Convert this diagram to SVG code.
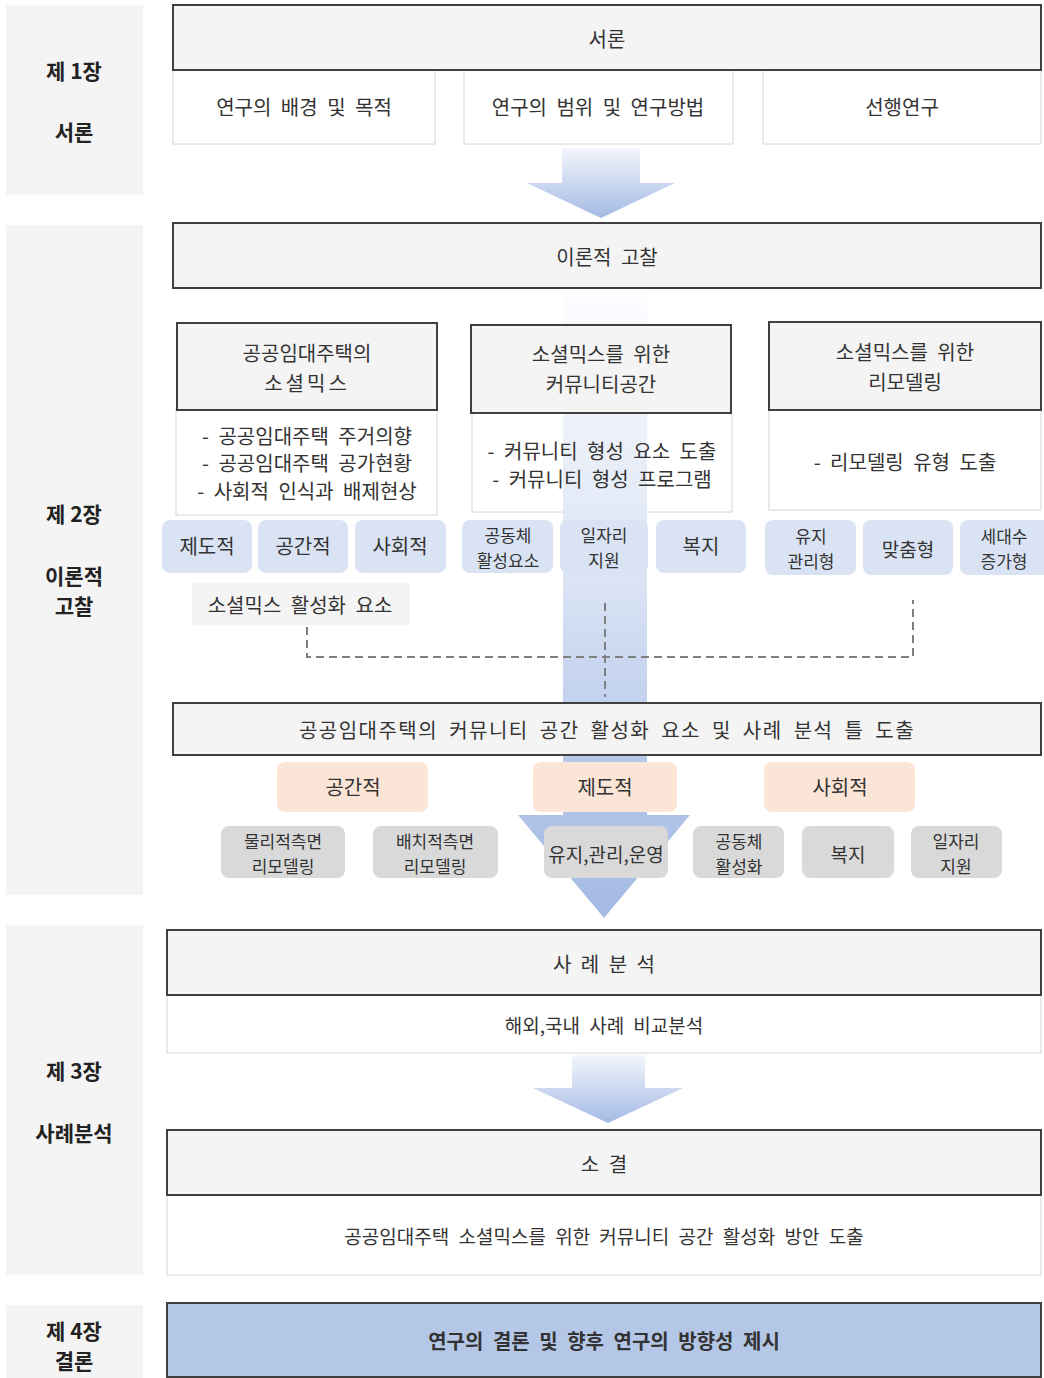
<svg xmlns="http://www.w3.org/2000/svg" width="1044" height="1378" viewBox="0 0 1044 1378">
<style>
text{font-family:"Noto Sans CJK KR","Noto Sans",sans-serif;fill:#333;text-anchor:middle;dominant-baseline:central;word-spacing:5px}
.t{font-size:20px}
.s{font-size:19px}
.p{font-size:17px;word-spacing:0}
.side{font-size:21px;font-weight:bold;fill:#222;word-spacing:0}
.panel{fill:#f4f4f4}
.hdr{fill:#f4f4f4;stroke:#404040;stroke-width:2}
.cnt{fill:#fff;stroke:#d6d6d6;stroke-width:1}
.blue{fill:#dae3f3}
.peach{fill:#fbe5d6}
.gray{fill:#d9d9d9}
.dash{fill:none;stroke:#7f7f7f;stroke-width:2;stroke-dasharray:8 5}
</style>
<defs>
<linearGradient id="g1" gradientUnits="userSpaceOnUse" x1="0" y1="148" x2="0" y2="218"><stop offset="0" stop-color="#f3f6fc"/><stop offset="1" stop-color="#a3bae3"/></linearGradient>
<linearGradient id="g2" gradientUnits="userSpaceOnUse" x1="0" y1="1055" x2="0" y2="1123"><stop offset="0" stop-color="#f3f6fc"/><stop offset="1" stop-color="#a3bae3"/></linearGradient>
<linearGradient id="g3" gradientUnits="userSpaceOnUse" x1="0" y1="290" x2="0" y2="918"><stop offset="0" stop-color="#fcfdff"/><stop offset="0.2" stop-color="#eef2fa"/><stop offset="0.45" stop-color="#dce5f5"/><stop offset="0.75" stop-color="#b6c8e9"/><stop offset="1" stop-color="#a4bae3"/></linearGradient>
</defs>

<g id="sidebar">
<g id="ch1"><rect class="panel" x="6" y="5" width="137" height="190"/><text class="side" x="74" y="70">제 1장</text><text class="side" x="74" y="131">서론</text></g>
<g id="ch2"><rect class="panel" x="6" y="225" width="137" height="670"/><text class="side" x="74" y="513">제 2장</text><text class="side" x="74" y="575">이론적</text><text class="side" x="74" y="605">고찰</text></g>
<g id="ch3"><rect class="panel" x="6" y="925" width="137" height="350"/><text class="side" x="74" y="1070">제 3장</text><text class="side" x="74" y="1132">사례분석</text></g>
<g id="ch4"><rect class="panel" x="6" y="1305" width="137" height="73"/><text class="side" x="74" y="1330">제 4장</text><text class="side" x="74" y="1360">결론</text></g>
</g>

<g id="intro-1"><rect class="cnt" x="173" y="70" width="262" height="74"/><text class="t" x="304" y="106">연구의 배경 및 목적</text></g>
<g id="intro-2"><rect class="cnt" x="464" y="70" width="269" height="74"/><text class="t" x="598" y="106">연구의 범위 및 연구방법</text></g>
<g id="intro-3"><rect class="cnt" x="763" y="70" width="278" height="74"/><text class="t" x="902" y="106">선행연구</text></g>
<g id="intro"><rect class="hdr" x="173" y="5" width="868" height="65"/><text class="t" x="607" y="38">서론</text></g>

<g id="arrows">
<path d="M562,148 H640 V183 H675 L601,218 L527,183 H562 Z" fill="url(#g1)"/>
<path d="M572,1055 H645 V1088 H683 L608,1123 L533,1088 H572 Z" fill="url(#g2)"/>
</g>

<g id="colA-body"><rect class="cnt" x="176" y="410" width="261" height="105"/><text class="t" x="307" y="435">- 공공임대주택 주거의향</text><text class="t" x="307" y="462">- 공공임대주택 공가현황</text><text class="t" x="307" y="490">- 사회적 인식과 배제현상</text></g>
<g id="colB-body"><rect class="cnt" x="472" y="413" width="260" height="99"/></g>
<g id="colC-body"><rect class="cnt" x="769" y="410" width="272" height="100"/><text class="t" x="905" y="461">- 리모델링 유형 도출</text></g>

<g id="big-arrow"><path d="M563,292 H647 V815 H690 L604,918 L518,815 H563 Z" fill="url(#g3)"/></g>

<g id="theory"><rect class="hdr" x="173" y="223" width="868" height="65"/><text class="t" x="607" y="256">이론적 고찰</text></g>

<g id="colB-text"><text class="t" x="602" y="450">- 커뮤니티 형성 요소 도출</text><text class="t" x="602" y="478">- 커뮤니티 형성 프로그램</text></g>

<g id="colA-head"><rect class="hdr" x="177" y="323" width="260" height="87"/><text class="t" x="307" y="352">공공임대주택의</text><text class="t" x="307" y="382" letter-spacing="3">소셜믹스</text></g>
<g id="colB-head"><rect class="hdr" x="471" y="325" width="260" height="88"/><text class="t" x="601" y="353">소셜믹스를 위한</text><text class="t" x="601" y="383">커뮤니티공간</text></g>
<g id="colC-head"><rect class="hdr" x="769" y="322" width="272" height="88"/><text class="t" x="905" y="351">소셜믹스를 위한</text><text class="t" x="905" y="381">리모델링</text></g>

<g id="pill-jedo"><rect class="blue" x="162" y="520" width="90" height="53" rx="8"/><text class="t" x="207" y="545">제도적</text></g>
<g id="pill-gonggan"><rect class="blue" x="258" y="520" width="90" height="53" rx="8"/><text class="t" x="303" y="545">공간적</text></g>
<g id="pill-sahoe"><rect class="blue" x="355" y="520" width="91" height="53" rx="8"/><text class="t" x="400" y="545">사회적</text></g>
<g id="pill-gongdong"><rect class="blue" x="462" y="520" width="91" height="53" rx="8"/><text class="p" x="508" y="534">공동체</text><text class="p" x="508" y="559">활성요소</text></g>
<g id="pill-ilja"><rect class="blue" x="560" y="520" width="88" height="53" rx="8"/><text class="p" x="604" y="534">일자리</text><text class="p" x="604" y="559">지원</text></g>
<g id="pill-bokji"><rect class="blue" x="656" y="520" width="90" height="53" rx="8"/><text class="t" x="701" y="545">복지</text></g>
<g id="pill-yuji"><rect class="blue" x="765" y="520" width="91" height="55" rx="8"/><text class="p" x="811" y="535">유지</text><text class="p" x="811" y="560">관리형</text></g>
<g id="pill-match"><rect class="blue" x="863" y="520" width="90" height="55" rx="8"/><text class="s" x="908" y="548">맞춤형</text></g>
<g id="pill-sedae"><rect class="blue" x="960" y="520" width="92" height="55" rx="8"/><text class="p" x="1004" y="535">세대수</text><text class="p" x="1004" y="560">증가형</text></g>

<g id="socialmix-elem"><rect class="panel" x="192" y="583" width="218" height="42"/><text class="t" x="300" y="604">소셜믹스 활성화 요소</text></g>

<g id="connectors">
<path class="dash" d="M307,627 V657 H913 V600"/>
<path class="dash" d="M605,603 V697"/>
</g>

<g id="framework"><rect class="hdr" x="173" y="703" width="868" height="52" fill="#f7f7f7"/><text class="t" x="607" y="729" letter-spacing="1.5">공공임대주택의 커뮤니티 공간 활성화 요소 및 사례 분석 틀 도출</text></g>

<g id="f-gonggan"><rect class="peach" x="277" y="762" width="151" height="50" rx="8"/><text class="t" x="353" y="786">공간적</text></g>
<g id="f-jedo"><rect class="peach" x="533" y="762" width="144" height="50" rx="8"/><text class="t" x="605" y="786">제도적</text></g>
<g id="f-sahoe"><rect class="peach" x="764" y="762" width="151" height="50" rx="8"/><text class="t" x="840" y="786">사회적</text></g>

<g id="g-mulli"><rect class="gray" x="221" y="826" width="124" height="52" rx="8"/><text class="p" x="283" y="840">물리적측면</text><text class="p" x="283" y="865">리모델링</text></g>
<g id="g-baechi"><rect class="gray" x="373" y="826" width="125" height="52" rx="8"/><text class="p" x="435" y="840">배치적측면</text><text class="p" x="435" y="865">리모델링</text></g>
<g id="g-yuji"><rect class="gray" x="544" y="826" width="124" height="52" rx="8"/><text class="s" x="606" y="853" word-spacing="0">유지,관리,운영</text></g>
<g id="g-gongdong"><rect class="gray" x="693" y="826" width="91" height="52" rx="8"/><text class="p" x="739" y="840">공동체</text><text class="p" x="739" y="865">활성화</text></g>
<g id="g-bokji"><rect class="gray" x="802" y="826" width="92" height="52" rx="8"/><text class="s" x="848" y="853">복지</text></g>
<g id="g-ilja"><rect class="gray" x="911" y="826" width="91" height="52" rx="8"/><text class="p" x="956" y="840">일자리</text><text class="p" x="956" y="865">지원</text></g>

<g id="case-body"><rect class="cnt" x="167" y="995" width="874" height="58"/><text class="s" x="604" y="1024" word-spacing="2">해외,국내 사례 비교분석</text></g>
<g id="case"><rect class="hdr" x="167" y="930" width="874" height="65"/><text class="t" x="604" y="963">사 례 분 석</text></g>
<g id="summary-body"><rect class="cnt" x="167" y="1195" width="874" height="80"/><text class="s" x="604" y="1235" word-spacing="1">공공임대주택 소셜믹스를 위한 커뮤니티 공간 활성화 방안 도출</text></g>
<g id="summary"><rect class="hdr" x="167" y="1130" width="874" height="65"/><text class="t" x="604" y="1163">소 결</text></g>
<g id="conclusion"><rect x="167" y="1303" width="874" height="74" fill="#b4c7e7" stroke="#404040" stroke-width="2"/><text class="t" x="604" y="1340" font-weight="bold" word-spacing="1">연구의 결론 및 향후 연구의 방향성 제시</text></g>
</svg>
